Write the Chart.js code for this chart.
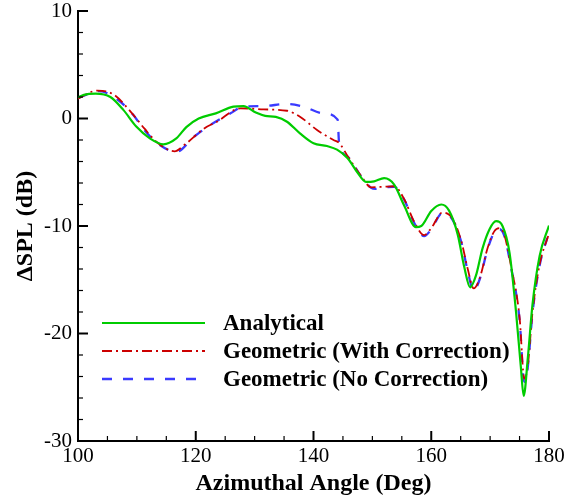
<!DOCTYPE html>
<html><head><meta charset="utf-8">
<script src="https://cdn.jsdelivr.net/npm/chart.js@4.4.0/dist/chart.umd.min.js"></script>
<style>html,body{margin:0;padding:0;background:#fff;}</style>
</head><body>
<canvas id="c" width="568" height="497"></canvas>
<script>
const xTicks = [100, 120, 140, 160, 180];
const yTicks = [-30, -20, -10, 0, 10];
const xMinorStep = 5;
const yMinorStep = 2;
const xTitle = 'Azimuthal Angle (Deg)';
const yTitle = 'ΔSPL (dB)';
const seriesNames = ['Analytical', 'Geometric (With Correction)', 'Geometric (No Correction)'];

const analyticalX = [100.0,101.0,103.0,105.5,107.7,109.9,112.2,114.5,116.7,118.4,120.5,123.4,126.4,128.1,130.2,131.8,133.6,135.5,137.7,140.0,142.3,144.0,145.8,147.5,148.9,150.3,152.0,153.7,155.4,157.4,158.3,160.0,161.7,163.0,164.5,165.6,166.6,167.6,168.7,169.9,171.0,172.1,173.3,174.4,175.2,175.7,176.4,177.2,178.4,180.0];
const analyticalY = [1.95,2.2,2.32,2.0,0.8,-0.75,-1.85,-2.4,-1.85,-0.8,0.0,0.48,1.1,1.16,0.55,0.25,0.15,-0.3,-1.38,-2.3,-2.56,-2.9,-3.7,-5.05,-5.9,-5.85,-5.55,-6.15,-8.1,-10.1,-10.0,-8.6,-8.0,-8.55,-10.8,-13.8,-15.7,-14.6,-12.1,-10.3,-9.55,-10.0,-12.5,-18.0,-23.0,-25.8,-22.3,-17.3,-12.8,-9.95];

const withCorrX = [100.0,103.3,106.0,109.0,111.3,113.5,116.4,118.2,121.5,123.6,127.6,131.5,135.5,137.7,140.6,143.4,144.4,145.8,148.1,149.8,152.0,153.7,155.4,157.1,158.8,160.0,161.9,163.6,165.1,166.2,167.2,168.2,169.6,170.7,171.6,172.4,173.5,175.0,175.8,176.4,177.2,178.4,180.0];
const withCorrY = [1.85,2.6,2.25,0.6,-0.95,-2.25,-3.05,-2.4,-0.9,-0.3,0.95,0.85,0.72,0.17,-1.07,-2.0,-2.3,-3.5,-5.35,-6.4,-6.35,-6.3,-7.5,-9.6,-10.85,-10.2,-8.75,-9.3,-11.4,-14.0,-15.8,-14.9,-12.0,-10.5,-10.2,-10.8,-13.6,-18.5,-24.2,-23.0,-18.0,-13.6,-10.7];

const noCorrX = [100.0,103.6,106.8,109.4,111.3,113.9,116.7,119.7,122.5,125.9,128.1,131.5,135.5,138.3,141.7,144.1,144.35,145.8,148.1,149.8,150.5,152.0,153.7,155.4,157.1,158.8,160.0,161.9,163.6,165.1,166.2,167.2,168.2,169.6,170.7,171.6,172.4,173.5,175.0,175.8,176.4,177.2,178.4,179.7];
const noCorrY = [1.9,2.55,1.72,0.33,-1.1,-2.47,-3.1,-1.7,-0.6,0.48,1.1,1.16,1.35,1.1,0.48,-0.1,-2.3,-3.55,-5.4,-6.45,-6.55,-6.4,-6.35,-7.55,-9.7,-10.95,-10.3,-8.8,-9.4,-11.5,-14.2,-16.0,-15.0,-12.1,-10.6,-10.3,-10.9,-13.7,-18.7,-24.5,-23.1,-18.1,-13.7,-11.1];

const toPts = (xs, ys) => xs.map((x, i) => ({x: x, y: ys[i]}));
const SERIF = "'Liberation Serif', 'Times New Roman', serif";
Chart.defaults.font.family = SERIF;

const customPlugin = {
  id: 'custom',
  afterDraw(chart) {
    const ctx = chart.ctx;
    const a = chart.chartArea;
    const xs = chart.scales.x, ys = chart.scales.y;
    ctx.save();
    ctx.strokeStyle = '#000';
    for (let v = xs.min; v <= xs.max + 1e-9; v += xMinorStep) {
      const px = xs.getPixelForValue(v);
      const major = xTicks.includes(v);
      ctx.lineWidth = major ? 2 : 1.2;
      ctx.beginPath();
      ctx.moveTo(px, a.bottom);
      ctx.lineTo(px, a.bottom - (major ? 10 : 5));
      ctx.stroke();
    }
    for (let v = ys.min; v <= ys.max + 1e-9; v += yMinorStep) {
      const py = ys.getPixelForValue(v);
      const major = yTicks.includes(v);
      ctx.lineWidth = major ? 2 : 1.2;
      ctx.beginPath();
      ctx.moveTo(a.left, py);
      ctx.lineTo(a.left + (major ? 10 : 5), py);
      ctx.stroke();
    }
    ctx.fillStyle = '#000';
    ctx.font = 'bold 24px ' + SERIF;
    ctx.textAlign = 'center';
    ctx.textBaseline = 'alphabetic';
    ctx.fillText(xTitle, (a.left + a.right) / 2, 490);
    ctx.save();
    ctx.translate(32, (a.top + a.bottom) / 2);
    ctx.rotate(-Math.PI / 2);
    ctx.fillText(yTitle, 0, 0);
    ctx.restore();
    const rows = [323, 351, 379];
    chart.data.datasets.forEach((ds, i) => {
      ctx.save();
      ctx.strokeStyle = ds.borderColor;
      ctx.lineWidth = ds.borderWidth;
      ctx.setLineDash(ds.borderDash || []);
      ctx.beginPath();
      ctx.moveTo(102, rows[i]);
      ctx.lineTo(205, rows[i]);
      ctx.stroke();
      ctx.restore();
      ctx.fillStyle = '#000';
      ctx.font = 'bold 23px ' + SERIF;
      ctx.textAlign = 'left';
      ctx.textBaseline = 'middle';
      ctx.fillText(ds.label, 223, rows[i] + 1);
    });
    ctx.restore();
  }
};

function noPad(s) { s.paddingTop = 0; s.paddingBottom = 0; s.paddingLeft = 0; s.paddingRight = 0; }

new Chart(document.getElementById('c'), {
  type: 'line',
  data: {
    datasets: [
      {label: seriesNames[0], data: toPts(analyticalX, analyticalY), borderColor: '#00cc00', borderWidth: 2.2, borderDash: []},
      {label: seriesNames[1], data: toPts(withCorrX, withCorrY), borderColor: '#cc0000', borderWidth: 1.8, borderDash: [10, 4, 2, 4]},
      {label: seriesNames[2], data: toPts(noCorrX, noCorrY), borderColor: '#3a3aff', borderWidth: 2.3, borderDash: [10, 11]}
    ]
  },
  options: {
    responsive: false,
    devicePixelRatio: 1,
    animation: false,
    elements: {point: {radius: 0}, line: {cubicInterpolationMode: 'monotone', fill: false}},
    layout: {padding: {top: 11, right: 19, left: 0, bottom: 0}},
    plugins: {legend: {display: false}, tooltip: {enabled: false}},
    scales: {
      x: {
        type: 'linear', min: 100, max: 180,
        afterBuildTicks: s => { s.ticks = xTicks.map(v => ({value: v})); },
        afterFit: s => { s.height = 56; noPad(s); },
        grid: {display: false, drawTicks: false},
        border: {display: true, color: '#000', width: 2},
        ticks: {color: '#000', padding: 5, maxRotation: 0, autoSkip: false, font: {family: SERIF, size: 21, lineHeight: 1}}
      },
      y: {
        type: 'linear', min: -30, max: 10,
        afterBuildTicks: s => { s.ticks = yTicks.map(v => ({value: v})); },
        afterFit: s => { s.width = 78; noPad(s); },
        grid: {display: false, drawTicks: false},
        border: {display: true, color: '#000', width: 2},
        ticks: {color: '#000', padding: 6, autoSkip: false, font: {family: SERIF, size: 21, lineHeight: 1}}
      }
    }
  },
  plugins: [customPlugin]
});
</script>
</body></html>
